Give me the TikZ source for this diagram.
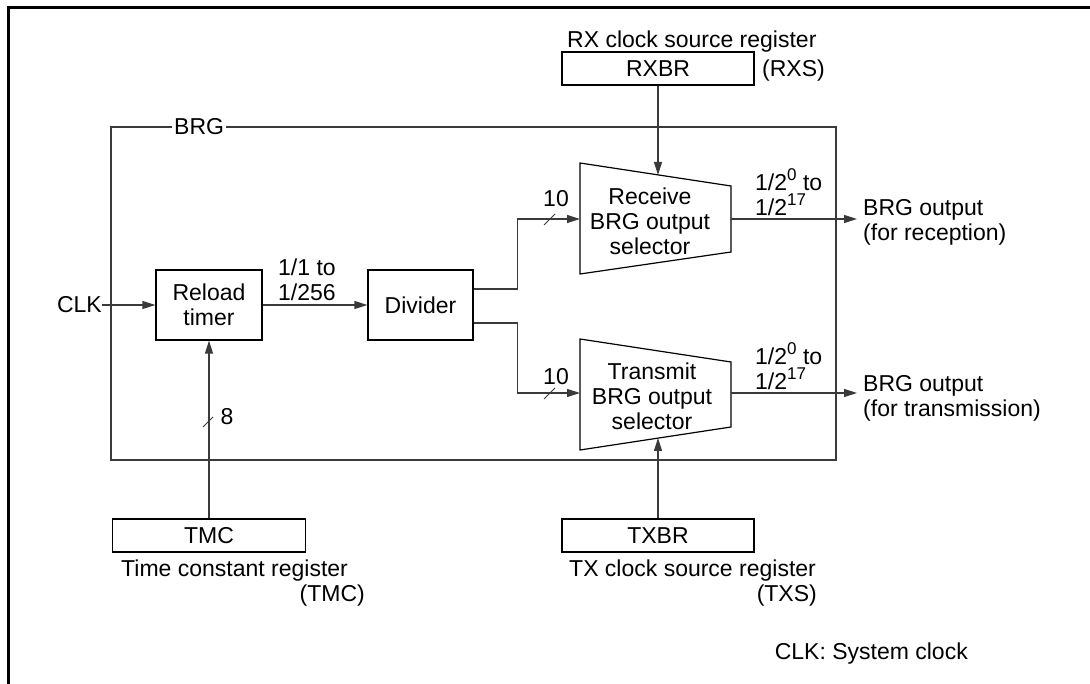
\documentclass[tikz,border=0pt]{standalone}
\usepackage{fontspec}
\setmainfont{Liberation Sans}
\usetikzlibrary{arrows.meta,positioning,calc}
\definecolor{cLine}{HTML}{3A3A3A}
\newcommand{\supx}[1]{\raisebox{0.42em}{\fontsize{17}{17}\selectfont #1}}
\tikzset{
  blk/.style  = {rectangle, draw=black, line width=1.2pt, minimum width=#1,
                 minimum height=70pt, inner sep=0pt, align=center},
  blk/.default = 106pt,
  reg/.style  = {rectangle, draw=black, line width=1.2pt, minimum width=192pt,
                 minimum height=33pt, inner sep=0pt},
  sel/.style  = {draw=black, line width=1.2pt},
  fl/.style   = {-{Triangle[length=13pt,width=8pt]}, draw=cLine, line width=1.2pt},
  ln/.style   = {draw=cLine, line width=1.2pt},
  tick/.style = {draw=cLine, line width=1pt},
  lab/.style  = {inner sep=0pt, align=left},
  txt/.style  = {inner sep=0pt, align=center},
}

\begin{document}
\begin{tikzpicture}[x=1pt, y=-1pt, every node/.style={font=\fontsize{23}{25}\selectfont}]
  \useasboundingbox (0,0) rectangle (1090,684);
  % outer frame
  \draw[line width=3pt] (8,684) -- (8,8) -- (1090,8);

  % BRG block
  \draw[ln] (111,127) rectangle (836,460);
  \node[fill=white, inner xsep=2pt, inner ysep=0pt, anchor=west] (brg) at (172,127) {BRG};

  % blocks
  \node[blk=106pt] (timer) at (209,305) {Reload\\timer};
  \node[blk=105pt] (div) at (420.5,305) {Divider};
  \node[txt, anchor=east] (clk) at (102,305) {CLK};

  % registers
  \node[reg] (rxbr) at (658,68.5) {RXBR};
  \node[reg, minimum width=193pt] (tmc) at (209,535.5) {TMC};
  \node[reg] (txbr) at (658,535.5) {TXBR};
  \node[lab, anchor=base west] (rxname) at (567,48) {RX clock source register};
  \node[lab, anchor=base west] (rxs) at (762,77) {(RXS)};
  \node[lab, anchor=base west] (tmcname) at (121,576) {Time constant register};
  \node[lab, anchor=base east] (tmcs) at (365,601) {(TMC)};
  \node[lab, anchor=base west] (txname) at (569,576) {TX clock source register};
  \node[lab, anchor=base east] (txs) at (817,601) {(TXS)};

  % selectors
  \draw[sel] (580,163) -- (731,186) -- (731,252) -- (580,274) -- cycle;
  \node[txt] (rxsel) at (650,221) {Receive\\BRG output\\selector};
  \coordinate (rxin) at (580,219);
  \coordinate (rxout) at (731,219);
  \coordinate (rxtop) at (658,175);

  \draw[sel] (580,339) -- (731,362) -- (731,427) -- (580,450) -- cycle;
  \node[txt] (txsel) at (652,396) {Transmit\\BRG output\\selector};
  \coordinate (txin) at (580,393);
  \coordinate (txout) at (731,393);
  \coordinate (txbot) at (658,438);

  % outputs
  \node[lab, anchor=west, inner xsep=6pt] (rxo) at (857,222) {BRG output\\(for reception)};
  \node[lab, anchor=west, inner xsep=6pt] (txo) at (857,398) {BRG output\\(for transmission)};
  \node[lab, anchor=west] (rxrate) at (755,192) {1/2\supx{0} to\\1/2\supx{17}};
  \node[lab, anchor=west] (txrate) at (755,366) {1/2\supx{0} to\\1/2\supx{17}};
  \node[lab, anchor=west] (trate) at (278,280) {1/1 to\\1/256};

  % connections
  \draw[fl] (clk) -- (timer);
  \draw[fl] (timer) -- (div);
  \draw[fl] ([yshift=16pt]div.east) -- ++(44,0) |- (rxin);
  \draw[fl] ([yshift=-18pt]div.east) -- ++(44,0) |- (txin);
  \draw[fl] (rxbr) -- (rxtop);
  \draw[fl] (txbr) -- (txbot);
  \draw[fl] (tmc) -- (timer);
  \draw[fl] (rxout) -- (rxout -| rxo.west);
  \draw[fl] (txout) -- (txout -| txo.west);

  % bus widths
  \draw[tick] (544,225) -- (555,214);
  \node[txt] (rxw) at (556,199) {10};
  \draw[tick] (544,399) -- (555,388);
  \node[txt] (txw) at (556,377) {10};
  \draw[tick] (203,427) -- (213,417);
  \node[txt] (tmw) at (227,417) {8};

  \node[lab, anchor=base east] (note) at (968,659) {CLK: System clock};
\end{tikzpicture}
\end{document}
